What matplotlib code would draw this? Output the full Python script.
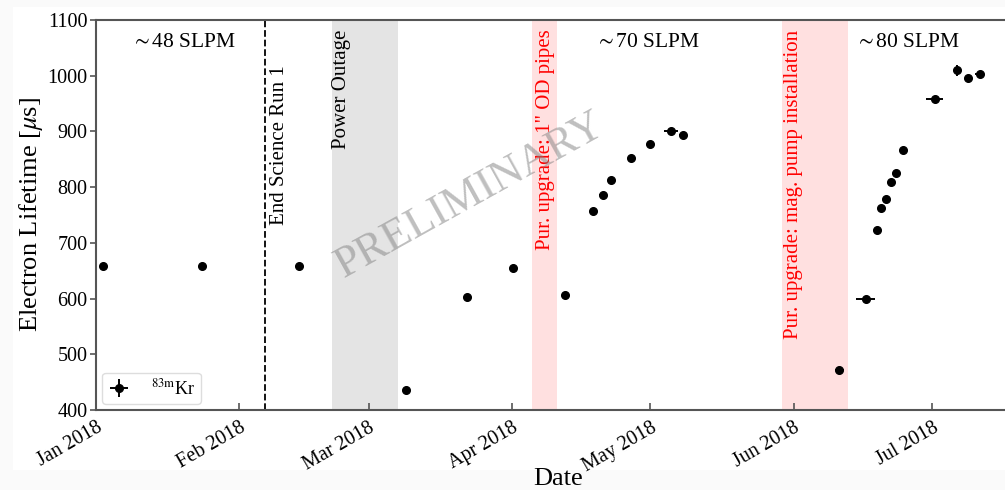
import matplotlib
matplotlib.use("Agg")
import matplotlib.pyplot as plt
import matplotlib.dates as mdates
from matplotlib.patches import Rectangle
import pandas as pd

plt.rcParams['font.family'] = ['Liberation Serif', 'DejaVu Serif']
plt.rcParams['mathtext.fontset'] = 'stix'

# Mediciones de lifetime con 83mKr
fechas = ["2018-01-02 11:00", "2018-01-23 22:00", "2018-02-14 00:00", "2018-03-09 02:00",
          "2018-03-22 05:00", "2018-04-01 07:00", "2018-04-12 10:00", "2018-04-18 14:00",
          "2018-04-20 17:00", "2018-04-22 12:00", "2018-04-26 19:00", "2018-04-30 22:00",
          "2018-05-05 10:00", "2018-05-08 00:00", "2018-06-10 22:00", "2018-06-16 14:00",
          "2018-06-19 00:00", "2018-06-20 00:00", "2018-06-21 02:00", "2018-06-22 02:00",
          "2018-06-23 05:00", "2018-06-24 14:00", "2018-07-01 12:00", "2018-07-06 07:00",
          "2018-07-08 19:00", "2018-07-11 07:00"]
lifetime = [659, 658, 658, 436, 603, 655, 607, 758, 785, 812, 852, 878, 900, 893,
            471, 599, 723, 763, 778, 810, 825, 866, 958, 1010, 996, 1003]
err_dias = [0.3, 0.3, 0.3, 0.3, 0.3, 0.3, 0.3, 0.3, 0.8, 0.3, 0.3, 0.3, 1.5, 0.8,
            1.0, 2.0, 0.3, 0.3, 0.3, 0.3, 0.3, 0.3, 1.8, 0.3, 0.5, 1.0]
err_lifetime = [3, 3, 3, 3, 3, 3, 3, 3, 3, 3, 3, 3, 4, 4,
                3, 3, 4, 4, 4, 4, 4, 5, 4, 10, 5, 5]

# Eventos
fin_run1 = "2018-02-06 14:00"
corte_luz = ("2018-02-21 00:00", "2018-03-07 10:00")
upgrade_pipes = ("2018-04-05 07:00", "2018-04-10 19:00")
upgrade_bomba = ("2018-05-29 10:00", "2018-06-12 19:00")

flujos = ["$\\sim$48 SLPM", "$\\sim$70 SLPM", "$\\sim$80 SLPM"]
flujos_x = ["2018-01-20 00:00", "2018-04-30 12:00", "2018-06-25 14:00"]

t = pd.to_datetime(fechas)
xerr = pd.to_timedelta(err_dias, unit="D")

#%%
fig = plt.figure(figsize=(10.05, 4.9), dpi=100, facecolor="#fafafa")
fig.patches.append(Rectangle((0.013, 0.04), 0.987, 0.945, transform=fig.transFigure,
                             facecolor="white", edgecolor="none", zorder=-10))
ax = fig.add_axes([0.0955, 0.1633, 0.9194, 0.796])

ax.axvline(pd.Timestamp(fin_run1), color="black", ls="--", lw=1.3)
ax.axvspan(pd.Timestamp(corte_luz[0]), pd.Timestamp(corte_luz[1]), color="#d9d9d9", alpha=0.7, lw=0)
ax.axvspan(pd.Timestamp(upgrade_pipes[0]), pd.Timestamp(upgrade_pipes[1]), color="red", alpha=0.12, lw=0)
ax.axvspan(pd.Timestamp(upgrade_bomba[0]), pd.Timestamp(upgrade_bomba[1]), color="red", alpha=0.12, lw=0)

ax.errorbar(t, lifetime, xerr=xerr, yerr=err_lifetime, fmt="o", color="black",
            ms=5.5, elinewidth=1.4, capsize=0, label="$^{\\mathrm{83m}}$Kr")

ax.text(pd.Timestamp("2018-02-09 19:00"), 1019, "End Science Run 1", rotation=90,
        ha="center", va="top", fontsize=15)
ax.text(pd.Timestamp("2018-02-23 05:00"), 1083, "Power Outage", rotation=90,
        ha="center", va="top", fontsize=15)
ax.text(pd.Timestamp("2018-04-08 05:00"), 1083, "Pur. upgrade: 1\" OD pipes", rotation=90,
        ha="center", va="top", fontsize=15, color="red")
ax.text(pd.Timestamp("2018-05-31 22:00"), 1083, "Pur. upgrade: mag. pump installation", rotation=90,
        ha="center", va="top", fontsize=15, color="red")

for txt, fx in zip(flujos, flujos_x):
    ax.text(pd.Timestamp(fx), 1059, txt, ha="center", va="center", fontsize=15.5)

ax.text(0.405, 0.55, "PRELIMINARY", transform=ax.transAxes, rotation=29,
        ha="center", va="center", fontsize=32, color="gray", alpha=0.5)

ax.set_xlim(pd.Timestamp("2018-01-01"), pd.Timestamp("2018-07-20"))
ax.set_ylim(400, 1100)
ax.set_yticks(range(400, 1101, 100))
ax.xaxis.set_major_locator(mdates.MonthLocator())
ax.xaxis.set_major_formatter(mdates.DateFormatter("%b %Y"))
plt.setp(ax.get_xticklabels(), rotation=30, ha="right", rotation_mode="anchor")

ax.tick_params(axis="x", direction="in", length=5, width=1.2, labelsize=14.5, color="#555555", pad=6)
ax.tick_params(axis="y", direction="out", length=4, width=1.2, labelsize=14.5, color="#555555", pad=2)
for s in ax.spines.values():
    s.set_color("#555555")
    s.set_linewidth(1.5)

ax.set_ylabel("Electron Lifetime [$\\mu$s]", fontsize=19, labelpad=2)
ax.set_xlabel("Date", fontsize=19)
ax.xaxis.set_label_coords(0.5, -0.15)

leg = ax.legend(loc="lower left", fontsize=13, framealpha=1, edgecolor="#dddddd",
                borderaxespad=0.35, borderpad=0.3, handletextpad=1.1, handlelength=1.3)

fig.savefig("out.png", dpi=100, facecolor=fig.get_facecolor())
